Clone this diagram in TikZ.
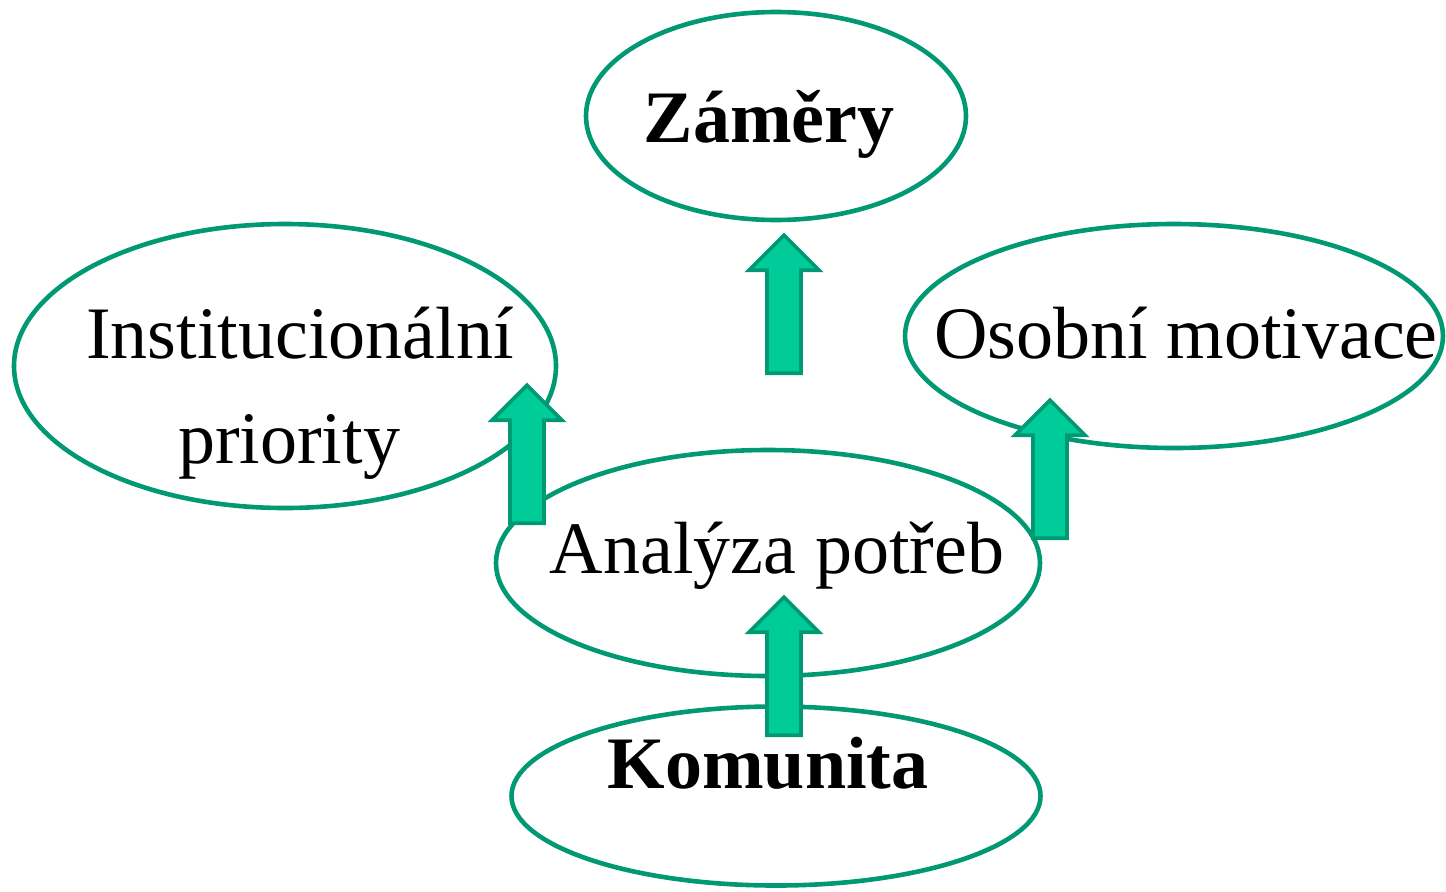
\documentclass[tikz,border=0pt]{standalone}
\usepackage{fontspec}
\setmainfont{Liberation Serif}
\usetikzlibrary{shapes.geometric}
\usetikzlibrary{shapes.arrows}
\definecolor{ringgreen}{HTML}{009973}
\definecolor{arrowfill}{HTML}{00CC99}
\tikzset{oval/.style = {draw = ringgreen, line width = 2.3pt, ellipse, inner sep = 0}}
\tikzset{uparrow/.style = {draw = ringgreen, fill = arrowfill, line width = 1.8pt,
                           single arrow, shape border rotate = 90, inner sep = 7.6pt,
                           minimum height = 69pt, minimum width = 33.5pt,
                           single arrow head extend = 9pt, single arrow head indent = 0pt,
                           anchor = tail}}
\tikzset{txt/.style = {font = \fontsize{37}{44}\selectfont, inner sep = 0, anchor = base}}
\begin{document}
\begin{tikzpicture}[x = 0.5pt, y = -0.5pt]
        \useasboundingbox (0, 0) rectangle (1446, 891);

        \node [oval, minimum width = 190pt, minimum height = 104pt] (zamery) at (776, 116) {};
        \node [oval, minimum width = 271pt, minimum height = 142pt] (instituce) at (285, 366) {};
        \node [oval, minimum width = 269pt, minimum height = 112pt] (motivace) at (1174, 336) {};
        \node [oval, minimum width = 272pt, minimum height = 113pt] (analyza) at (768, 563) {};
        \node [oval, minimum width = 264.5pt, minimum height = 89.5pt] (komunita) at (776, 796) {};

        \node [uparrow] (kZamerum) at (784, 375) {};
        \node [uparrow] (kInstituci) at (527, 525) {};
        \node [uparrow] (kMotivaci) at (1050, 540) {};
        \node [uparrow] (kAnalyze) at (784, 737) {};

        \node [txt] (zameryText) at (769, 142) {\bfseries Záměry};
        \node [txt] (instituceText) at (300, 358) {Institucionální};
        \node [txt] (prioritaText) at (289, 463) {priority};
        \node [txt] (motivaceText) at (1186, 358) {Osobní motivace};
        \node [txt] (analyzaText) at (777, 573) {Analýza potřeb};
        \node [txt] (komunitaText) at (768, 788) {\bfseries Komunita};
      \end{tikzpicture}
\end{document}
